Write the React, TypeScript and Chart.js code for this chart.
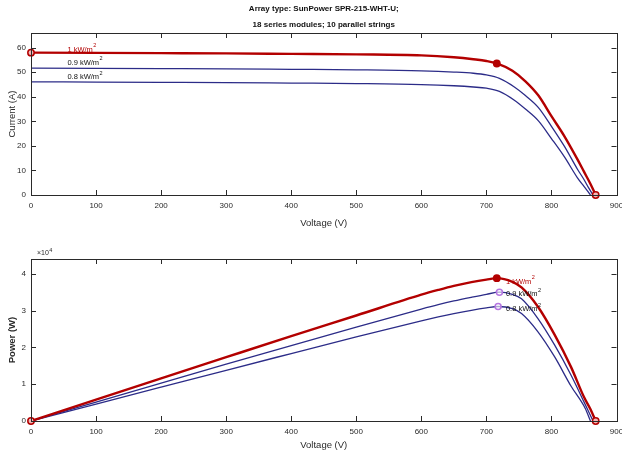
import React, { useEffect, useRef } from "react";
import { Chart, registerables } from "chart.js";

Chart.register(...registerables);

const TITLE_LINES = ["Array type: SunPower SPR-215-WHT-U;", "18 series modules; 10 parallel strings"];
const X_TITLE = "Voltage (V)";
const Y_TITLE_TOP = "Current (A)";
const Y_TITLE_BOTTOM = "Power (W)";
const IRR_LABELS = ["1 kW/m", "0.9 kW/m", "0.8 kW/m"];
const EXP_LABEL = "\u00d710";

// I-V curves
const V_IV_1000 = [0, 100, 200, 300, 400, 500, 600, 650, 680, 700, 716, 740, 760, 780, 800, 820, 840, 850, 860, 868];
const I_1000 = [58.0, 57.9, 57.8, 57.7, 57.5, 57.3, 56.9, 56.1, 55.3, 54.6, 53.6, 50.6, 46.3, 40.5, 32.1, 23.9, 14.5, 9.5, 4.5, 0];
const V_IV_900 = [0, 100, 200, 300, 400, 500, 600, 650, 680, 700, 720, 743, 760, 780, 800, 820, 840, 850, 857, 864];
const I_900 = [51.7, 51.6, 51.5, 51.4, 51.2, 51.0, 50.6, 50.1, 49.6, 48.9, 47.5, 44.0, 40.5, 35.6, 28.0, 19.8, 10.5, 6.3, 3.0, 0];
const V_IV_800 = [0, 100, 200, 300, 400, 500, 600, 650, 680, 700, 720, 743, 760, 780, 800, 820, 840, 850, 860];
const I_800 = [46.1, 46.0, 45.9, 45.8, 45.6, 45.4, 45.0, 44.5, 44.0, 43.5, 42.2, 38.6, 35.0, 30.2, 23.0, 15.5, 7.0, 3.5, 0];

// P-V curves
const V_PV_1000 = [0, 100, 200, 300, 400, 500, 600, 626, 650, 677, 700, 716, 740, 754, 779, 805, 830, 850, 860, 868];
const P_1000 = [0, 5800, 11580, 17330, 23050, 28650, 34300, 35600, 36700, 37700, 38400, 38800, 37800, 36300, 31100, 23400, 14700, 6500, 3200, 0];
const V_PV_900 = [0, 100, 200, 300, 400, 500, 600, 626, 650, 677, 700, 720, 740, 754, 779, 805, 830, 850, 857, 864];
const P_900 = [0, 5160, 10300, 15420, 20500, 25500, 30400, 31600, 32600, 33600, 34400, 35000, 34400, 33200, 27900, 20600, 12500, 5200, 2600, 0];
const V_PV_800 = [0, 100, 200, 300, 400, 500, 600, 626, 650, 677, 700, 718, 740, 754, 779, 805, 830, 852, 860];
const P_800 = [0, 4610, 9200, 13780, 18320, 22850, 27200, 28250, 29150, 30050, 30700, 31100, 30500, 29200, 24300, 17400, 9500, 3400, 0];

// marker points
const IV_RING_V = [0, 868];
const IV_RING_I = [58.0, 0];
const IV_MPP_V = [716];
const IV_MPP_I = [53.6];
const PV_RING_V = [0, 868];
const PV_RING_P = [0, 0];
const PV_MPP_V = [716];
const PV_MPP_P = [38800];
const PV_MPP_LOW_V = [720, 718];
const PV_MPP_LOW_P = [35000, 31100];

// label anchors (data coordinates)
const IV_LABEL_V = [56, 56, 56];
const IV_LABEL_I = [59.3, 53.9, 48.0];
const PV_LABEL_V = [730, 730, 730];
const PV_LABEL_P = [37900, 34400, 30350];

const X_TICKS = [0, 100, 200, 300, 400, 500, 600, 700, 800, 900];
const I_TICKS = [0, 10, 20, 30, 40, 50, 60];
const P_TICKS = [0, 10000, 20000, 30000, 40000];

const FONT = "'Liberation Sans', Arial, sans-serif";
const RED = "#b30000";
const BLUE = "#2c2c88";
const BOX = "#2a2a2a";

const pts = (xs: number[], ys: number[]) => xs.map((x, i) => ({ x, y: ys[i] }));

function makePlugin(labelV: number[], labelY: number[], labelColors: string[], showExp: boolean) {
  return {
    id: "matlabBox",
    afterDatasetsDraw(chart: any) {
      const { ctx, chartArea: a, scales } = chart;
      const xs = scales.x;
      const ys = scales.y;
      ctx.save();
      ctx.strokeStyle = BOX;
      ctx.lineWidth = 1;
      ctx.strokeRect(Math.round(a.left) + 0.5, Math.round(a.top) + 0.5, Math.round(a.right - a.left), Math.round(a.bottom - a.top));
      const tl = 5;
      ctx.beginPath();
      xs.ticks.forEach((t: any) => {
        const px = Math.round(xs.getPixelForValue(t.value)) + 0.5;
        ctx.moveTo(px, a.bottom);
        ctx.lineTo(px, a.bottom - tl);
        ctx.moveTo(px, a.top);
        ctx.lineTo(px, a.top + tl);
      });
      ys.ticks.forEach((t: any) => {
        const py = Math.round(ys.getPixelForValue(t.value)) + 0.5;
        ctx.moveTo(a.left, py);
        ctx.lineTo(a.left + tl, py);
        ctx.moveTo(a.right, py);
        ctx.lineTo(a.right - tl, py);
      });
      ctx.stroke();
      // curve labels
      ctx.textBaseline = "middle";
      ctx.textAlign = "left";
      IRR_LABELS.forEach((txt, i) => {
        const x = xs.getPixelForValue(labelV[i]);
        const y = ys.getPixelForValue(labelY[i]);
        ctx.fillStyle = labelColors[i];
        ctx.font = `7.5px ${FONT}`;
        ctx.fillText(txt, x, y);
        const w = ctx.measureText(txt).width;
        ctx.font = `5.5px ${FONT}`;
        ctx.fillText("2", x + w + 0.5, y - 4);
      });
      if (showExp) {
        ctx.fillStyle = BOX;
        ctx.font = `7px ${FONT}`;
        ctx.textBaseline = "alphabetic";
        const x0 = a.left + 6;
        const y0 = a.top - 4;
        ctx.fillText(EXP_LABEL, x0, y0);
        const w = ctx.measureText(EXP_LABEL).width;
        ctx.font = `5.5px ${FONT}`;
        ctx.fillText("4", x0 + w + 0.5, y0 - 3);
      }
      ctx.restore();
    },
  };
}

function xScale(height: number, titleBottom: number) {
  return {
    type: "linear",
    min: 0,
    max: 900,
    afterBuildTicks(s: any) {
      s.ticks = X_TICKS.map((v) => ({ value: v }));
    },
    afterFit(s: any) {
      s.height = height;
      s.paddingLeft = 0;
      s.paddingRight = 0;
    },
    grid: { display: false, drawTicks: false },
    border: { display: false },
    ticks: { color: BOX, font: { family: FONT, size: 8 }, padding: 6, maxRotation: 0, autoSkip: false },
    title: { display: true, text: X_TITLE, color: BOX, font: { family: FONT, size: 9.5 }, padding: { top: 0, bottom: titleBottom } },
  };
}

function yScale(max: number, tickVals: number[], title: string, bold: boolean, fmt?: (v: number) => string) {
  return {
    type: "linear",
    min: 0,
    max,
    afterBuildTicks(s: any) {
      s.ticks = tickVals.map((v) => ({ value: v }));
    },
    afterFit(s: any) {
      s.width = 31;
      s.paddingTop = 0;
      s.paddingBottom = 0;
    },
    grid: { display: false, drawTicks: false },
    border: { display: false },
    ticks: {
      color: BOX,
      font: { family: FONT, size: 8 },
      padding: 5,
      autoSkip: false,
      callback: (v: any) => (fmt ? fmt(v) : String(v)),
    },
    title: { display: true, text: title, color: BOX, font: { family: FONT, size: 9.5, weight: bold ? "bold" : "normal" }, padding: { top: 7, bottom: 0 } },
  };
}

function lineDs(data: any[], color: string, width: number) {
  return {
    type: "line",
    data,
    borderColor: color,
    borderWidth: width,
    pointRadius: 0,
    fill: false,
    cubicInterpolationMode: "monotone",
  };
}

function markerDs(data: any[], stroke: string, fill: string, r: number) {
  return {
    type: "scatter",
    data,
    showLine: false,
    clip: false,
    pointRadius: r,
    pointBorderWidth: 1.5,
    pointBorderColor: stroke,
    pointBackgroundColor: fill,
  };
}

export default function App() {
  const topRef = useRef<HTMLCanvasElement>(null);
  const botRef = useRef<HTMLCanvasElement>(null);

  useEffect(() => {
    const top = new Chart(topRef.current as HTMLCanvasElement, {
      type: "line",
      data: {
        datasets: [
          markerDs(pts(IV_MPP_V, IV_MPP_I), RED, RED, 3.2),
          markerDs(pts(IV_RING_V, IV_RING_I), RED, "#f3b8b8", 3.2),
          lineDs(pts(V_IV_1000, I_1000), RED, 2.4),
          lineDs(pts(V_IV_900, I_900), BLUE, 1.3),
          lineDs(pts(V_IV_800, I_800), BLUE, 1.3),
        ] as any,
      },
      options: {
        responsive: false,
        animation: false,
        layout: { padding: { left: 0, right: 3, top: 0, bottom: 0 } },
        plugins: {
          legend: { display: false },
          tooltip: { enabled: false },
          title: {
            display: true,
            text: TITLE_LINES,
            fullSize: false,
            color: "#111",
            font: { family: FONT, size: 8, weight: "bold", lineHeight: 2 },
            padding: { top: 1, bottom: 0 },
          },
        },
        scales: {
          x: xScale(35, 1),
          y: yScale(66, I_TICKS, Y_TITLE_TOP, false),
        },
      } as any,
      plugins: [makePlugin(IV_LABEL_V, IV_LABEL_I, [RED, "#111", "#111"], false)],
    });

    const bot = new Chart(botRef.current as HTMLCanvasElement, {
      type: "line",
      data: {
        datasets: [
          markerDs(pts(PV_MPP_V, PV_MPP_P), RED, RED, 3.2),
          markerDs(pts(PV_RING_V, PV_RING_P), RED, "#f3b8b8", 3.2),
          markerDs(pts(PV_MPP_LOW_V, PV_MPP_LOW_P), "#b576e0", "rgba(255,255,255,0.6)", 3),
          lineDs(pts(V_PV_1000, P_1000), RED, 2.4),
          lineDs(pts(V_PV_900, P_900), BLUE, 1.3),
          lineDs(pts(V_PV_800, P_800), BLUE, 1.3),
        ] as any,
      },
      options: {
        responsive: false,
        animation: false,
        layout: { padding: { left: 0, right: 3, top: 29, bottom: 0 } },
        plugins: {
          legend: { display: false },
          tooltip: { enabled: false },
        },
        scales: {
          x: xScale(36, 6),
          y: yScale(44000, P_TICKS, Y_TITLE_BOTTOM, true, (v) => String(v / 10000)),
        },
      } as any,
      plugins: [makePlugin(PV_LABEL_V, PV_LABEL_P, [RED, "#111", "#111"], true)],
    });

    return () => {
      top.destroy();
      bot.destroy();
    };
  }, []);

  return (
    <div style={{ position: "absolute", left: 0, top: 0, width: 622, height: 457, background: "#fff" }}>
      <canvas ref={topRef} width={622} height={230} style={{ position: "absolute", left: 0, top: 0, width: 622, height: 230 }} />
      <canvas ref={botRef} width={622} height={227} style={{ position: "absolute", left: 0, top: 230, width: 622, height: 227 }} />
    </div>
  );
}
